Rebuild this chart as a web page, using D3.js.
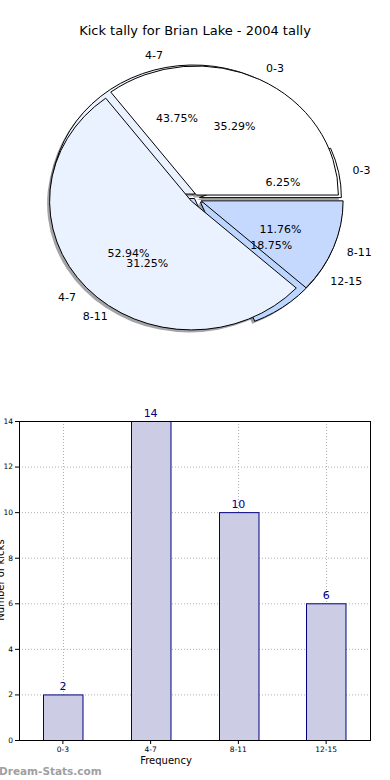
<!DOCTYPE html>
<html>
<head>
<meta charset="utf-8">
<script src="https://cdn.jsdelivr.net/npm/d3@7"></script>
<style>
  body { margin: 0; background: #fff; }
  text { font-family: "DejaVu Sans", sans-serif; }
</style>
</head>
<body>
<div id="chart"></div>
<script>
// chart values
let binLabels = ["0-3", "4-7", "8-11", "12-15"];
let tally2004 = [2, 14, 10, 6];
let priorLabels = ["0-3", "4-7", "8-11"];
let priorTally = [6, 9, 2];
let yTicks = [0, 2, 4, 6, 8, 10, 12, 14];

let width = 390;
let height = 780;

let svg = d3.select("#chart")
  .append("svg")
  .attr("width", width)
  .attr("height", height);

// ---------- pie part ----------
svg.append("text")
  .attr("x", 195)
  .attr("y", 35)
  .attr("text-anchor", "middle")
  .attr("font-size", "13px")
  .text("Kick tally for Brian Lake - 2004 tally");

let pieCx = 194.5, pieCy = 198.5, rx = 142, ry = 129;

// counter-clockwise from 3 o'clock, like matplotlib
let pie = d3.pie().sort(null)
  .startAngle(Math.PI / 2)
  .endAngle(Math.PI / 2 - 2 * Math.PI);

let arc = d3.arc().innerRadius(0).outerRadius(1);

let pieSets = [
  { labels: binLabels, values: tally2004, explode: [0.035, 0.035, 0.0, 0.05],
    colors: ["#ffffff", "#ebf2ff", "#c5d9ff", "#bcd6ff"] },
  { labels: priorLabels, values: priorTally, explode: [0.03, 0.03, 0.05],
    colors: ["#ffffff", "#ebf2ff", "#c5d9ff"] }
];

pieSets.forEach(s => {
  s.arcs = pie(s.values);
  s.arcs.forEach((a, i) => {
    let mid = (a.startAngle + a.endAngle) / 2;
    a.mid = mid;
    a.ox = s.explode[i] * rx * Math.sin(mid);
    a.oy = -s.explode[i] * ry * Math.cos(mid);
  });
});

// shadows go under every wedge
let shadowGroup = svg.append("g");
pieSets.forEach(s => {
  s.arcs.forEach((a, i) => {
    let c = d3.rgb(s.colors[i]);
    shadowGroup.append("path")
      .attr("transform", `translate(${pieCx + a.ox - 2.5}, ${pieCy + a.oy + 2.5}) scale(${rx}, ${ry})`)
      .attr("d", arc(a))
      .attr("fill", d3.rgb(c.r * 0.3, c.g * 0.3, c.b * 0.3))
      .attr("opacity", 0.5);
  });
});

pieSets.forEach(s => {
  let g = svg.append("g");
  s.arcs.forEach((a, i) => {
    g.append("path")
      .attr("transform", `translate(${pieCx + a.ox}, ${pieCy + a.oy}) scale(${rx}, ${ry})`)
      .attr("d", arc(a))
      .attr("fill", s.colors[i])
      .attr("stroke", "black")
      .attr("stroke-width", 1)
      .attr("vector-effect", "non-scaling-stroke");
  });
});

// labels and percents
pieSets.forEach(s => {
  let sum = d3.sum(s.values);
  s.arcs.forEach((a, i) => {
    let sx = Math.sin(a.mid), cy = -Math.cos(a.mid);
    let lx = pieCx + a.ox + 1.1 * rx * sx;
    let ly = pieCy + a.oy + 1.1 * ry * cy;
    svg.append("text")
      .attr("x", lx)
      .attr("y", ly)
      .attr("dy", "0.35em")
      .attr("text-anchor", sx > 0 ? "start" : "end")
      .attr("font-size", "11px")
      .text(s.labels[i]);

    svg.append("text")
      .attr("x", pieCx + a.ox + 0.6 * rx * sx)
      .attr("y", pieCy + a.oy + 0.6 * ry * cy)
      .attr("dy", "0.35em")
      .attr("text-anchor", "middle")
      .attr("font-size", "11px")
      .text((100 * s.values[i] / sum).toFixed(2) + "%");
  });
});

// ---------- bar part ----------
let plot = { left: 19, right: 370, top: 421, bottom: 740 };

let xScale = d3.scaleBand()
  .domain(binLabels)
  .range([plot.left, plot.right])
  .paddingInner(0.55)
  .paddingOuter(0.275);

let yScale = d3.scaleLinear()
  .domain([0, 14])
  .range([plot.bottom, plot.top]);

// grid
let grid = svg.append("g")
  .attr("stroke", "#b0b0b0")
  .attr("stroke-dasharray", "1,2")
  .attr("stroke-width", 1);

yTicks.forEach(t => {
  grid.append("line")
    .attr("x1", plot.left).attr("x2", plot.right)
    .attr("y1", yScale(t) + 0.5).attr("y2", yScale(t) + 0.5);
});
binLabels.forEach(b => {
  let x = Math.round(xScale(b) + xScale.bandwidth() / 2) + 0.5;
  grid.append("line")
    .attr("x1", x).attr("x2", x)
    .attr("y1", plot.top).attr("y2", plot.bottom);
});

// bars
svg.selectAll("rect.bar")
  .data(tally2004)
  .enter()
  .append("rect")
  .attr("class", "bar")
  .attr("x", (d, i) => Math.round(xScale(binLabels[i])) + 0.5)
  .attr("y", d => yScale(d) + 0.5)
  .attr("width", xScale.bandwidth())
  .attr("height", d => plot.bottom - yScale(d))
  .attr("fill", "#ccccE5")
  .attr("stroke", "#000080")
  .attr("stroke-width", 1);

// values on top
svg.selectAll("text.val")
  .data(tally2004)
  .enter()
  .append("text")
  .attr("class", "val")
  .attr("x", (d, i) => xScale(binLabels[i]) + xScale.bandwidth() / 2)
  .attr("y", d => yScale(d) - 4)
  .attr("text-anchor", "middle")
  .attr("font-size", "11px")
  .attr("fill", "#000080")
  .text(d => d);

// axes
let yAxis = d3.axisLeft(yScale).tickValues(yTicks).tickSize(4).tickPadding(2);
let xAxis = d3.axisBottom(xScale).tickSize(4).tickPadding(3);

let yg = svg.append("g")
  .attr("transform", `translate(${plot.left}, 0)`)
  .call(yAxis);
let xg = svg.append("g")
  .attr("transform", `translate(0, ${plot.bottom})`)
  .call(xAxis);

[yg, xg].forEach(g => {
  g.select(".domain").remove();
  g.selectAll("text").attr("font-size", "7.5px").attr("font-family", "DejaVu Sans Condensed, DejaVu Sans");
});

// frame
svg.append("rect")
  .attr("x", plot.left + 0.5)
  .attr("y", plot.top + 0.5)
  .attr("width", plot.right - plot.left)
  .attr("height", plot.bottom - plot.top)
  .attr("fill", "none")
  .attr("stroke", "black")
  .attr("stroke-width", 1);

svg.append("text")
  .attr("x", 166)
  .attr("y", 764)
  .attr("text-anchor", "middle")
  .attr("font-size", "10px")
  .text("Frequency");

svg.append("text")
  .attr("transform", "rotate(-90)")
  .attr("x", -580)
  .attr("y", 4)
  .attr("text-anchor", "middle")
  .attr("font-size", "10px")
  .text("Number of kicks");

svg.append("text")
  .attr("x", -1)
  .attr("y", 775)
  .attr("font-size", "10.5px")
  .attr("font-weight", "bold")
  .attr("fill", "#a0a0a0")
  .text("Dream-Stats.com");
</script>
</body>
</html>
